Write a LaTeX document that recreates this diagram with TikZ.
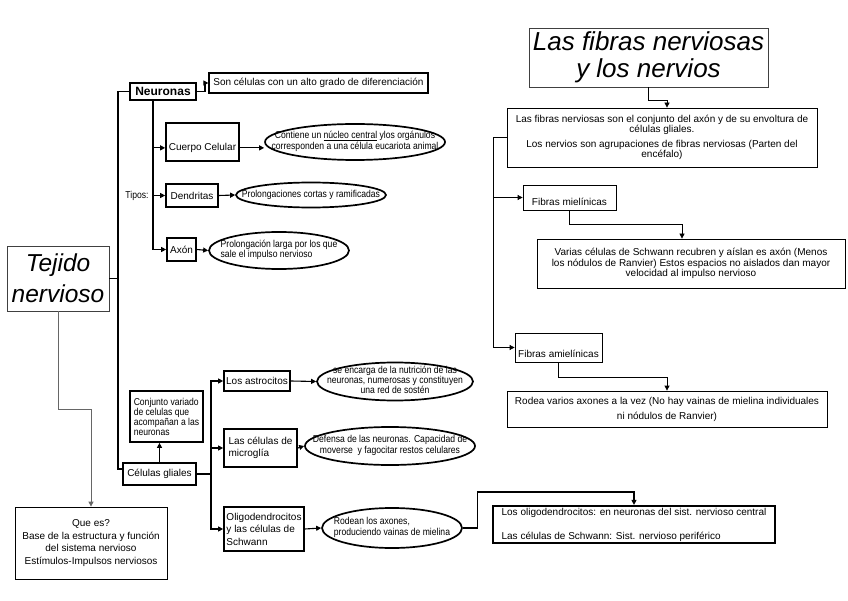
\documentclass[tikz,border=0pt]{standalone}
\usepackage{fontspec}
\setmainfont{Liberation Sans}
\newfontfamily\estrecha[FakeStretch=0.86]{Liberation Sans}
\usetikzlibrary{shapes.geometric,arrows.meta}

% texto dentro de las elipses (no cambia su tamano)
\newcommand{\elt}[2][c]{\smash{\makebox[0pt]{\raisebox{-2.5pt}{\begin{tabular}{@{}#1@{}}#2\end{tabular}}}}}

\begin{document}
\begin{tikzpicture}[x=1pt,y=-1pt,
	caja/.style={draw, rectangle, inner sep=1pt, line width=0.8pt, font=\fontsize{10}{11}\selectfont},
	cajag/.style={caja, line width=1.7pt},
	elip/.style={draw, ellipse, inner sep=0pt, line width=1.7pt, font=\estrecha\fontsize{10}{10.5}\selectfont},
	flecha/.style={-{Triangle[length=5pt,width=5pt]}, line width=1.1pt},
	linea/.style={line width=1.1pt}]
\useasboundingbox (0,0) rectangle (848,601);

% Tejido nervioso
\node[caja, draw=black!75, minimum width=102, minimum height=65, align=center,
	font=\itshape\fontsize{24.5}{31}\selectfont] (tejido) at (58,278.5) {Tejido\\nervioso};
\node[caja, minimum width=152, minimum height=72, align=center, font=\fontsize{10}{12.5}\selectfont]
	(quees) at (91,543) {Que es?\\Base de la estructura y función\\del sistema nervioso\\Estímulos-Impulsos nerviosos};

% Neuronas
\node[cajag, line width=2pt, minimum width=66, minimum height=17,
	font=\bfseries\fontsize{12}{12}\selectfont] (neur) at (163,91.5) {Neuronas};
\node[cajag, line width=1.3pt, minimum width=219, minimum height=20] (son) at (318.5,83)
	{Son células con un alto grado de diferenciación};
\node[cajag, minimum width=73, minimum height=38, text height=26.5pt, text depth=9.5pt]
	(cuerpo) at (202.5,142) {Cuerpo Celular};
\node[cajag, minimum width=52, minimum height=23] (dend) at (192,195.5) {Dendritas};
\node[cajag, minimum width=29, minimum height=23] (axon) at (181.5,249.5) {Axón};
\node[font=\estrecha\fontsize{10}{10}\selectfont] (tipos) at (137,196) {Tipos:};
\node[elip, minimum width=180, minimum height=36] (ell1) at (355,142)
	{\elt{Contiene un \underline{núcleo central} ylos orgánulos\\corresponden a una célula eucariota animal}};
\node[elip, minimum width=150, minimum height=25] (ell2) at (311,195)
	{\elt{Prolongaciones cortas y ramificadas}};
\node[elip, minimum width=140, minimum height=37] (ell3) at (279,250.5)
	{\elt[l]{Prolongación larga por los que\\sale el impulso nervioso}};

% Celulas gliales
\node[cajag, minimum width=73, minimum height=22] (glia) at (159.5,474) {Células gliales};
\node[cajag, minimum width=73, minimum height=51, align=left, font=\estrecha\fontsize{10}{10}\selectfont]
	(conj) at (166.5,416.5) {Conjunto variado\\de celulas que\\acompañan a las\\neuronas};
\node[cajag, minimum width=66, minimum height=20] (astro) at (257,381) {Los astrocitos};
\node[cajag, minimum width=73, minimum height=38, align=left, font=\fontsize{10}{11.5}\selectfont]
	(micro) at (260.5,448) {Las células de\\microglía};
\node[cajag, minimum width=80, minimum height=44, align=left, font=\fontsize{10}{12.5}\selectfont]
	(oligo) at (264,529) {Oligodendrocitos\\y las células de\\Schwann};
\node[elip, minimum width=156, minimum height=38, font=\estrecha\fontsize{10}{10}\selectfont] (ellA) at (395,381.5)
	{\elt{se encarga de la nutrición de las\\neuronas, numerosas y constituyen\\una red de sostén}};
\node[elip, minimum width=170, minimum height=38] (ellM) at (390,446)
	{\elt{Defensa de las neuronas. Capacidad de\\moverse\ \ y fagocitar restos celulares}};
\node[elip, minimum width=140, minimum height=40] (ellO) at (392,528)
	{\elt[l]{Rodean los axones,\\produciendo vainas de mielina}};
\node[cajag, line width=2.2pt, minimum width=282, minimum height=37, align=left] (losol) at (634,524.5)
	{Los oligodendrocitos: en neuronas del sist. nervioso central\\[13pt]Las células de Schwann: Sist. nervioso periférico};

% Las fibras nerviosas
\node[caja, draw=black!75, minimum width=239, minimum height=59, align=center,
	font=\itshape\fontsize{26}{27}\selectfont] (titulo) at (648.5,57.5) {Las fibras nerviosas\\y los nervios};
\node[caja, minimum width=310, minimum height=59, align=center, font=\fontsize{10}{10.3}\selectfont]
	(fibras) at (662,137.5) {Las fibras nerviosas son el conjunto del axón y de su envoltura de\\células gliales.\\[4pt]Los nervios son agrupaciones de fibras nerviosas (Parten del\\encéfalo)};
\node[caja, minimum width=93, minimum height=25, text height=20pt, text depth=3pt]
	(miel) at (569.5,197.5) {Fibras mielínicas};
\node[caja, minimum width=308, minimum height=49, align=center, font=\fontsize{10}{10.5}\selectfont]
	(varias) at (691,263.5) {Varias células de Schwann recubren y aíslan es axón (Menos\\los nódulos de Ranvier) Estos espacios no aislados dan mayor\\velocidad al impulso nervioso};
\node[caja, minimum width=87, minimum height=29, text height=23pt, text depth=4pt]
	(amiel) at (558.5,347.5) {Fibras amielínicas};
\node[caja, minimum width=320, minimum height=36, align=center, font=\fontsize{10}{15}\selectfont]
	(rodea) at (667,409) {Rodea varios axones a la vez (No hay vainas de mielina individuales\\ni nódulos de Ranvier)};

% conectores izquierda
\coordinate (tronco) at (118,0);
\coordinate (rama) at (153,0);
\coordinate (ramag) at (211,0);
\draw[linea, line width=1.8pt] (tejido.east) -- (tejido.east -| tronco);
\draw[linea, line width=1.8pt] (neur.west) -- (neur.west -| tronco) |- ([yshift=5pt]glia.west);
\draw[flecha, draw=black!60, line width=0.9pt] (tejido.south) -- ++(0,98) -| (quees.north);
\draw[flecha] (neur.east) -- ++(8,0) |- (son.west);
\draw[flecha] (neur.south -| rama) |- (axon.west);
\draw[flecha] (cuerpo.mid west -| rama) -- (cuerpo.mid west);
\draw[flecha] (dend.west -| rama) -- (dend.west);
\draw[flecha] (cuerpo.mid east) -- (cuerpo.mid east -| ell1.west);
\draw[flecha] (dend.east) -- (ell2.west);
\draw[flecha] (axon.east) -- (ell3.west);
\draw[flecha] (glia.north) -- (glia.north |- conj.south);
\draw[linea] (glia.east) -- (glia.east -| ramag);
\draw[flecha] (glia.east -| ramag) |- (astro.west);
\draw[flecha] (glia.east -| ramag) |- (oligo.west);
\draw[flecha] (micro.west -| ramag) -- (micro.west);
\draw[flecha] (astro.east) -- (ellA.west);
\draw[flecha] (micro.east) -- (ellM.west);
\draw[flecha] (oligo.east) -- (ellO.west);
\draw[flecha] (ellO.east) -- ++(15,0) -- ++(0,-36) -| (losol.north);

% conectores derecha
\coordinate (eje) at (493,0);
\draw[flecha, line width=0.8pt] (titulo.south) -- ++(0,13) -| ([xshift=5pt]fibras.north);
\draw[linea, line width=0.8pt] (fibras.west) -- (fibras.west -| eje);
\draw[flecha, line width=0.8pt] (fibras.west -| eje) |- (amiel.west);
\draw[flecha, line width=0.8pt] (miel.west -| eje) -- (miel.west);
\draw[flecha, line width=0.8pt] (miel.south) -- ++(0,14) -| ([xshift=-9pt]varias.north);
\draw[flecha, line width=0.8pt] (amiel.south) -- ++(0,15) -| (rodea.north);
\end{tikzpicture}
\end{document}
